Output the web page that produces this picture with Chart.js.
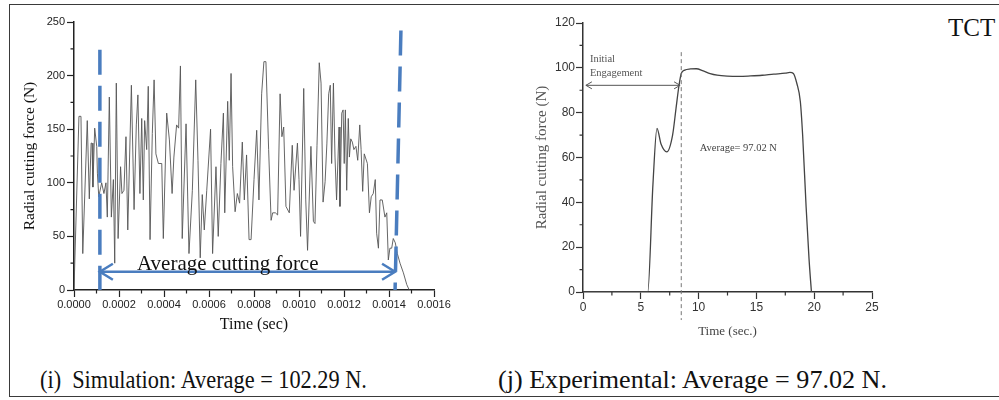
<!DOCTYPE html>
<html>
<head>
<meta charset="utf-8">
<script src="https://cdn.jsdelivr.net/npm/chart.js@4.4.1/dist/chart.umd.min.js"></script>
<style>
  html, body { margin: 0; padding: 0; background: #fff; }
  body { width: 999px; height: 400px; position: relative; overflow: hidden; font-family: 'Liberation Serif', 'Times New Roman', serif; }
  .frame { position: absolute; left: 9px; top: 4px; width: 1000px; height: 393px; border: 1.5px solid #3a3a3a; border-right: none; box-sizing: border-box; }
  canvas { position: absolute; top: 0; }
  #sim { left: 0; }
  #exp { left: 520px; }
  .cap { position: absolute; top: 367px; font-family: 'Liberation Serif', 'Times New Roman', serif; font-size: 26px; line-height: 1; color: #111; white-space: pre; transform-origin: 0 0; }
  .tct { position: absolute; left: 948px; top: 15px; font-family: 'Liberation Serif', 'Times New Roman', serif; font-size: 25px; line-height: 1; color: #111; }
</style>
</head>
<body>
<div class="frame"></div>
<canvas id="sim" width="460" height="345"></canvas>
<canvas id="exp" width="380" height="345"></canvas>
<div class="tct">TCT</div>
<div class="cap" data-w="327" style="left:40px">(i)  Simulation: Average = 102.29 N.</div>
<div class="cap" data-w="389" style="left:498px">(j) Experimental: Average = 97.02 N.</div>
<script>
// ---- simulation (i): time in microseconds, radial force in N
const simTimeUs = [
  0, 22, 31, 39, 59, 68, 76, 80, 84, 92,
  101, 104, 110, 123, 133, 142, 148, 157, 166, 175,
  181, 188, 196, 207, 213, 222, 231, 239, 255, 267,
  277, 284, 293, 301, 308, 314, 323, 330, 338, 348,
  356, 364, 375, 390, 397, 412, 424, 436, 444, 456,
  465, 473, 481, 498, 511, 526, 541, 551, 561, 570,
  579, 590, 607, 616, 631, 641, 653, 664, 670, 683,
  690, 698, 705, 716, 726, 736, 748, 757, 767, 778,
  787, 800, 812, 822, 834, 844, 853, 865, 876, 883,
  895, 905, 916, 924, 932, 942, 957, 970, 978, 993,
  1000, 1007, 1021, 1030, 1038, 1053, 1064, 1071, 1080, 1090,
  1098, 1107, 1116, 1124, 1132, 1139, 1145, 1153, 1160, 1167,
  1178, 1182, 1190, 1196, 1201, 1206, 1212, 1219, 1224, 1230,
  1237, 1244, 1253, 1261, 1270, 1276, 1283, 1290, 1304, 1313,
  1321, 1330, 1339, 1345, 1353, 1360, 1370, 1382, 1390, 1397,
  1404, 1412, 1419, 1428, 1437, 1449, 1464, 1479, 1490
]
const simForce = [
  0, 162, 162, 34, 158, 85, 137, 137, 96, 151,
  134, 109, 87, 100, 90, 100, 68, 180, 68, 103,
  25, 193, 48, 115, 90, 93, 143, 56, 191, 75,
  154, 182, 90, 160, 84, 158, 131, 190, 47, 146,
  196, 127, 118, 118, 48, 165, 140, 90, 124, 154,
  151, 209, 48, 155, 34, 93, 196, 121, 30, 89,
  56, 93, 150, 34, 115, 50, 118, 165, 72, 176,
  121, 202, 115, 73, 90, 81, 138, 84, 126, 47,
  47, 103, 149, 84, 183, 213, 213, 131, 65, 72,
  72, 70, 183, 143, 152, 78, 72, 135, 93, 137,
  103, 50, 188, 84, 37, 134, 64, 62, 135, 212,
  193, 82, 101, 137, 183, 191, 118, 193, 124, 84,
  152, 78, 165, 168, 118, 168, 93, 160, 124, 141,
  138, 131, 134, 121, 154, 131, 92, 127, 118, 72,
  87, 90, 103, 53, 39, 84, 84, 68, 72, 28,
  39, 39, 48, 44, 34, 25, 16, 5, 0
]
const simXMinor = [100, 300, 500, 700, 900, 1100, 1300, 1500]
const simYMinor = [25, 75, 125, 175, 225]
// averaging window markers (x in us, y in N)
const simWinLeft = [[115, 224], [115, 0]]
const simWinRight = [[1453, 242], [1427, 0]]
const simArrow = [[115, 17], [1427, 17]]

// ---- experimental (j): time in s, radial force in N
const expTime = [0, 5.6, 6.05, 6.4, 6.75, 7.25, 7.75, 8.05, 8.3, 8.5, 8.8, 9.3, 9.8, 10.4, 11.0, 11.6, 12.5, 13.5, 14.5, 15.5, 16.5, 17.5, 17.9, 18.2, 18.5, 18.8, 19.0, 19.3, 19.55, 19.76]
const expForce = [0, 0, 48, 73, 66, 62.5, 70, 82, 92, 97.5, 99, 99.5, 99.6, 98.6, 97.4, 96.7, 96.3, 96.2, 96.4, 96.7, 97.2, 97.6, 98, 97.5, 93, 85, 70, 38, 15, 0]
const expXMinor = [2.5, 7.5, 12.5, 17.5, 22.5]
const expYMinor = [10, 30, 50, 70, 90, 110]
const expEngage = [[8.5, 107], [8.5, -12.5]]
const expArrow = [[0.25, 92.2], [8.4, 92.2]]

const pts = (xs, ys) => xs.map((x, i) => ({ x, y: ys[i] }))
const pairs = arr => arr.map(p => ({ x: p[0], y: p[1] }))

// minor tick marks on both axes
const minorTicks = {
  id: 'minorTicks',
  afterDraw(chart, args, o) {
    const { ctx, scales: { x, y } } = chart
    ctx.save()
    ctx.strokeStyle = o.color
    ctx.lineWidth = 1.2
    ctx.beginPath()
    o.x.forEach(v => { const px = x.getPixelForValue(v); ctx.moveTo(px, y.bottom); ctx.lineTo(px, y.bottom + o.len) })
    o.y.forEach(v => { const py = y.getPixelForValue(v); ctx.moveTo(x.left, py); ctx.lineTo(x.left - o.len, py) })
    ctx.stroke()
    ctx.restore()
  }
}

// open arrowheads on both ends of a dataset, plus text notes
const notes = {
  id: 'notes',
  afterDatasetsDraw(chart, args, o) {
    const { ctx, scales: { x, y } } = chart
    ctx.save()
    ;(o.arrows || []).forEach(a => {
      const d = chart.getDatasetMeta(a.ds).data
      const p0 = d[0], p1 = d[d.length - 1]
      ctx.strokeStyle = a.color
      ctx.lineWidth = a.width
      ctx.beginPath()
      ctx.moveTo(p0.x + a.len, p0.y - a.half); ctx.lineTo(p0.x, p0.y); ctx.lineTo(p0.x + a.len, p0.y + a.half)
      ctx.moveTo(p1.x - a.len, p1.y - a.half); ctx.lineTo(p1.x, p1.y); ctx.lineTo(p1.x - a.len, p1.y + a.half)
      ctx.stroke()
    })
    ;(o.texts || []).forEach(t => {
      ctx.font = t.font
      ctx.fillStyle = t.color
      ctx.textAlign = 'left'
      ctx.textBaseline = 'alphabetic'
      ctx.fillText(t.text, x.getPixelForValue(t.x), y.getPixelForValue(t.y))
    })
    ctx.restore()
  }
}

const SANS = "'Liberation Sans', Arial, sans-serif"
const SERIF = "'Liberation Serif', 'Times New Roman', serif"

function axis(o) {
  return {
    type: 'linear',
    min: o.min, max: o.max,
    afterFit: s => { if (o.w) s.width = o.w; if (o.h) s.height = o.h },
    ticks: {
      stepSize: o.step, autoSkip: false, maxRotation: 0, padding: o.pad,
      color: o.color, font: { family: SANS, size: o.fontSize },
      callback: o.fmt || (v => v)
    },
    grid: { drawOnChartArea: false, drawTicks: true, tickLength: 7, tickColor: o.color, tickWidth: 1.2 },
    border: { display: true, color: o.color, width: 1.5 },
    title: { display: true, text: o.title, color: o.titleColor, font: { family: SERIF, size: o.titleSize }, padding: o.titlePad }
  }
}

new Chart(document.getElementById('sim'), {
  type: 'line',
  data: {
    datasets: [
      { data: pairs(simWinLeft), borderColor: '#4a7dbf', borderWidth: 3.5, borderDash: [25, 11], pointRadius: 0, order: 0 },
      { data: pairs(simWinRight), borderColor: '#4a7dbf', borderWidth: 3.5, borderDash: [25, 11], pointRadius: 0, order: 0 },
      { data: pairs(simArrow), borderColor: '#4a7dbf', borderWidth: 2.5, pointRadius: 0, order: 0 },
      { data: pts(simTimeUs, simForce), borderColor: '#555', borderWidth: 0.9, pointRadius: 0, tension: 0, order: 1 }
    ]
  },
  options: {
    responsive: false, animation: false, events: [],
    layout: { padding: { left: 0, top: 22, right: 26, bottom: 0 } },
    plugins: {
      legend: { display: false }, tooltip: { enabled: false },
      minorTicks: { x: simXMinor, y: simYMinor, len: 3.5, color: '#222' },
      notes: {
        arrows: [{ ds: 2, color: '#4a7dbf', width: 2.5, len: 13, half: 8 }],
        texts: [{ text: 'Average cutting force', x: 280, y: 18.6, font: `21px ${SERIF}`, color: '#111' }]
      }
    },
    scales: {
      x: axis({ min: 0, max: 1600, step: 200, h: 55, pad: 1, fontSize: 11, color: '#222', title: 'Time (sec)', titleColor: '#111', titleSize: 16,
        titlePad: { top: 0, bottom: 11 }, fmt: v => (v / 1e6).toFixed(4) }),
      y: axis({ min: 0, max: 250, step: 50, w: 74, pad: 2, fontSize: 11, color: '#222', title: 'Radial cutting force (N)', titleColor: '#111', titleSize: 15.5,
        titlePad: { top: 21, bottom: 0 } })
    }
  },
  plugins: [minorTicks, notes]
})

new Chart(document.getElementById('exp'), {
  type: 'line',
  data: {
    datasets: [
      { data: pairs(expEngage), borderColor: '#777', borderWidth: 1, borderDash: [4, 3], pointRadius: 0, clip: false, order: 0 },
      { data: pairs(expArrow), borderColor: '#555', borderWidth: 1, pointRadius: 0, order: 0 },
      { data: pts(expTime, expForce), borderColor: '#444', borderWidth: 1.3, pointRadius: 0, cubicInterpolationMode: 'monotone', order: 1 }
    ]
  },
  options: {
    responsive: false, animation: false, events: [],
    layout: { padding: { left: 0, top: 23, right: 28, bottom: 0 } },
    plugins: {
      legend: { display: false }, tooltip: { enabled: false },
      minorTicks: { x: expXMinor, y: expYMinor, len: 3.5, color: '#333' },
      notes: {
        arrows: [{ ds: 1, color: '#555', width: 1, len: 6, half: 3.5 }],
        texts: [
          { text: 'Initial', x: 0.6, y: 102.5, font: `10.5px ${SERIF}`, color: '#555' },
          { text: 'Engagement', x: 0.6, y: 96.3, font: `10.5px ${SERIF}`, color: '#555' },
          { text: 'Average= 97.02 N', x: 10.1, y: 62.8, font: `10.5px ${SERIF}`, color: '#444' }
        ]
      }
    },
    scales: {
      x: axis({ min: 0, max: 25, step: 5, h: 53, pad: 1, fontSize: 12, color: '#333', title: 'Time (sec.)', titleColor: '#444', titleSize: 13,
        titlePad: { top: 0, bottom: 6 } }),
      y: axis({ min: 0, max: 120, step: 20, w: 63, pad: 1, fontSize: 12, color: '#333', title: 'Radial cutting force (N)', titleColor: '#555', titleSize: 15,
        titlePad: { top: 13, bottom: 0 } })
    }
  },
  plugins: [minorTicks, notes]
})

// fit captions to the width they take in the figure
document.querySelectorAll('.cap').forEach(el => {
  const w = el.getBoundingClientRect().width
  el.style.transform = `scaleX(${(+el.dataset.w / w).toFixed(3)})`
})
</script>
</body>
</html>
